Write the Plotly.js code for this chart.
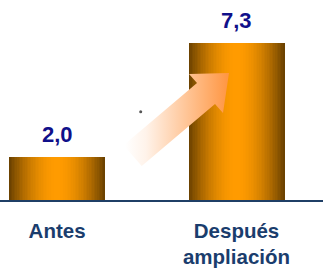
<!DOCTYPE html>
<html>
<head>
<meta charset="utf-8">
<script src="https://cdn.plot.ly/plotly-3.0.1.min.js"></script>
<style>html,body{margin:0;padding:0;background:#fff}#chart{width:323px;height:271px}</style>
</head>
<body>
<div id="chart"></div>
<script>
// ---- data ----
const categories = ['Antes', 'Después<br>ampliación'];
const values = [2.0, 7.3];
const valueLabels = values.map(v => v.toFixed(1).replace('.', ','));

// ---- style ----
const edgeColor = [108, 66, 0];
const centerColor = [255, 155, 0];
const barWidth = 0.535;
const layers = 30;

const xIdx = categories.map((c, i) => i);
const traces = [];
for (let k = 0; k < layers; k++) {
  const s = k / (layers - 1);
  const t = 1 - Math.pow(1 - s, 1.8);
  const c = edgeColor.map((e, j) => Math.round(e + (centerColor[j] - e) * t));
  traces.push({
    type: 'bar', x: xIdx, y: values,
    width: barWidth * (1 - k / layers),
    marker: {color: 'rgb(' + c.join(',') + ')', line: {width: 0}},
    hoverinfo: 'skip', showlegend: false
  });
}

// decorative arrow (pixel-like overlay axes)
const arrowX = [229, 189, 197, 123.5, 141.7, 215, 223, 229];
const arrowY = [73, 74, 83, 145.3, 166, 104, 113, 73];
traces.push({
  type: 'scatter', xaxis: 'x2', yaxis: 'y2',
  x: arrowX, y: arrowY, mode: 'lines', fill: 'toself',
  line: {width: 0, color: 'rgba(0,0,0,0)'},
  fillgradient: {type: 'horizontal', start: 125, stop: 229,
    colorscale: [[0, 'rgba(255,255,255,1)'], [0.2, '#fff3ea'], [1, '#ff9540']]},
  hoverinfo: 'skip', showlegend: false
});
traces.push({
  type: 'scatter', xaxis: 'x2', yaxis: 'y2', x: [140.7], y: [111.7], mode: 'markers',
  marker: {size: 3, color: '#555'}, hoverinfo: 'skip', showlegend: false
});

const annotations = xIdx.map((x, i) => ({
  x: x, y: values[i], xref: 'x', yref: 'y', text: '<b>' + valueLabels[i] + '</b>',
  showarrow: false, yanchor: 'bottom', yshift: 8,
  font: {family: 'Liberation Sans, Arial, sans-serif', size: 22, color: '#10108a'}
}));

const layout = {
  width: 323, height: 271,
  margin: {l: 0, r: 0, t: 0, b: 71, pad: 0},
  paper_bgcolor: '#fff', plot_bgcolor: '#fff',
  barmode: 'overlay', bargap: 0,
  showlegend: false,
  xaxis: {
    range: [-0.318, 1.482], tickvals: xIdx, ticktext: categories.map(c => '<b>' + c + '</b>'),
    showgrid: false, zeroline: false, showline: true, linecolor: '#1f3f66', linewidth: 2,
    ticks: '', ticklabelstandoff: 11,
    tickfont: {family: 'Liberation Sans, Arial, sans-serif', size: 20.5, color: '#1a3d6d'},
    fixedrange: true
  },
  yaxis: {range: [0, 9.3], visible: false, showgrid: false, zeroline: false, fixedrange: true},
  xaxis2: {overlaying: 'x', range: [0, 323], visible: false, fixedrange: true},
  yaxis2: {overlaying: 'y', range: [200, 0], visible: false, fixedrange: true},
  annotations: annotations
};

Plotly.newPlot('chart', traces, layout, {staticPlot: true, displayModeBar: false});
</script>
</body>
</html>
